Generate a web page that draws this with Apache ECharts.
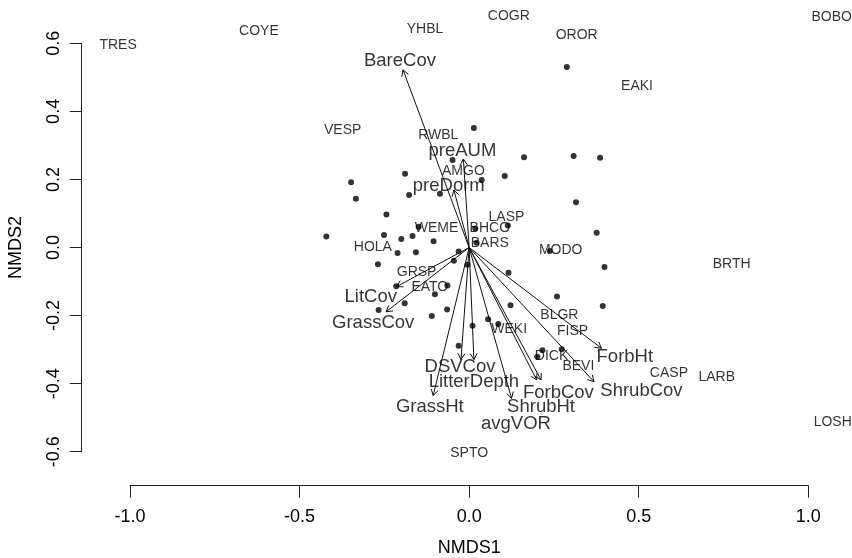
<!DOCTYPE html>
<html>
<head>
<meta charset="utf-8">
<script src="https://cdn.jsdelivr.net/npm/echarts@6/dist/echarts.min.js"></script>
<style>
  html, body { margin: 0; padding: 0; background: #fff; }
  #chart { width: 852px; height: 558px; }
</style>
</head>
<body>
<div id="chart"></div>
<script>
// NMDS ordination biplot: site scores, species scores and fitted env vectors

// site scores (black dots)
const siteX = [0.288, 0.014, 0.162, 0.308, 0.386, -0.049, 0.105, 0.037, -0.189, -0.348,
  -0.177, -0.334, -0.086, 0.315, -0.244, -0.149, 0.018, 0.114, 0.376, -0.421,
  -0.251, -0.200, -0.167, -0.105, 0.022, -0.211, -0.157, -0.031, 0.238, -0.269,
  -0.045, -0.005, 0.399, 0.116, -0.215, -0.064, -0.101, -0.190, -0.267, -0.065,
  -0.110, 0.122, 0.259, 0.394, 0.056, 0.086, 0.010, -0.031, 0.216, 0.201, 0.273];
const siteY = [0.530, 0.351, 0.265, 0.269, 0.264, 0.257, 0.210, 0.198, 0.217, 0.192,
  0.154, 0.143, 0.158, 0.133, 0.097, 0.061, 0.056, 0.065, 0.043, 0.032,
  0.037, 0.025, 0.034, 0.018, 0.014, -0.016, -0.014, -0.012, -0.010, -0.049,
  -0.039, -0.051, -0.057, -0.074, -0.114, -0.112, -0.137, -0.164, -0.184, -0.182,
  -0.201, -0.170, -0.144, -0.172, -0.211, -0.225, -0.230, -0.289, -0.302, -0.321, -0.299];

// species scores (text labels)
const speciesNames = ['TRES', 'COYE', 'YHBL', 'COGR', 'OROR', 'BOBO', 'EAKI', 'VESP', 'RWBL', 'AMGO',
  'LASP', 'BHCO', 'WEME', 'BARS', 'HOLA', 'MODO', 'GRSP', 'EATO', 'BLGR', 'FISP',
  'WEKI', 'DICK', 'BEVI', 'CASP', 'LARB', 'BRTH', 'LOSH', 'SPTO'];
const speciesX = [-1.035, -0.620, -0.130, 0.117, 0.317, 1.069, 0.495, -0.373, -0.091, -0.017,
  0.110, 0.061, -0.096, 0.061, -0.284, 0.270, -0.155, -0.116, 0.266, 0.305,
  0.118, 0.243, 0.322, 0.589, 0.730, 0.774, 1.072, 0.000];
const speciesY = [0.595, 0.636, 0.642, 0.680, 0.624, 0.678, 0.475, 0.345, 0.329, 0.225,
  0.090, 0.056, 0.058, 0.014, 0.002, -0.007, -0.073, -0.117, -0.200, -0.245,
  -0.240, -0.319, -0.350, -0.368, -0.380, -0.048, -0.514, -0.604];

// fitted environmental vectors: arrow tips and label positions
const vectorNames = ['BareCov', 'preAUM', 'preDorm', 'LitCov', 'GrassCov', 'DSVCov', 'LitterDepth',
  'GrassHt', 'avgVOR', 'ShrubHt', 'ForbCov', 'ShrubCov', 'ForbHt'];
const vectorX = [-0.195, -0.017, -0.045, -0.214, -0.245, -0.024, 0.014, -0.106, 0.125, 0.199, 0.212, 0.368, 0.390];
const vectorY = [0.522, 0.260, 0.169, -0.115, -0.189, -0.329, -0.329, -0.435, -0.443, -0.389, -0.389, -0.394, -0.296];
const vectorLabelX = [-0.204, -0.020, -0.060, -0.290, -0.283, -0.027, 0.014, -0.116, 0.138, 0.212, 0.263, 0.508, 0.459];
const vectorLabelY = [0.548, 0.284, 0.181, -0.145, -0.223, -0.350, -0.394, -0.468, -0.517, -0.469, -0.426, -0.422, -0.321];

const xTicks = [-1.0, 1.0];
const yTicks = [-0.6, 0.6];

const FONT = '"Liberation Sans", Arial, Helvetica, sans-serif';
const INK = '#000000';

const chart = echarts.init(document.getElementById('chart'), null, { renderer: 'canvas' });

const sites = siteX.map((x, i) => [x, siteY[i]]);
const species = speciesNames.map((n, i) => ({ name: n, value: [speciesX[i], speciesY[i]] }));
const arrows = vectorNames.map((n, i) => ({ name: n, value: [vectorX[i], vectorY[i]] }));
const arrowLabels = vectorNames.map((n, i) => ({ name: n, value: [vectorLabelX[i], vectorLabelY[i]] }));

// ── arrow drawing (R style open head) ───────────────────────────────
function renderArrow(params, api) {
  const o = api.coord([0, 0]);
  const t = api.coord([api.value(0), api.value(1)]);
  const ang = Math.atan2(t[1] - o[1], t[0] - o[0]);
  const h = 7, a = Math.PI / 6;
  const p1 = [t[0] - h * Math.cos(ang - a), t[1] - h * Math.sin(ang - a)];
  const p2 = [t[0] - h * Math.cos(ang + a), t[1] - h * Math.sin(ang + a)];
  return {
    type: 'group',
    children: [
      { type: 'line', shape: { x1: o[0], y1: o[1], x2: t[0], y2: t[1] }, style: { stroke: '#111', lineWidth: 1 } },
      { type: 'polyline', shape: { points: [p1, t, p2] }, style: { stroke: '#111', fill: null, lineWidth: 1 } }
    ]
  };
}

const option = {
  backgroundColor: '#ffffff',
  animation: false,
  grid: { left: 130, right: 43.7, top: 43.3, bottom: 106.3, outerBoundsMode: 'none' },
  xAxis: {
    type: 'value',
    min: xTicks[0], max: xTicks[1], interval: 0.5,
    offset: 34,
    name: 'NMDS1', nameLocation: 'middle', nameGap: 53,
    nameTextStyle: { fontSize: 18, fontFamily: FONT, color: INK },
    axisLine: { show: true, onZero: false, lineStyle: { color: '#222', width: 1 } },
    axisTick: { show: true, length: 12, lineStyle: { color: '#222', width: 1 } },
    axisLabel: { margin: 22, fontSize: 18, fontFamily: FONT, color: INK, formatter: v => v.toFixed(1) },
    splitLine: { show: false }
  },
  yAxis: {
    type: 'value',
    min: yTicks[0], max: yTicks[1], interval: 0.2,
    offset: 48.3,
    name: 'NMDS2', nameLocation: 'middle', nameGap: 57,
    nameTextStyle: { fontSize: 18, fontFamily: FONT, color: INK },
    axisLine: { show: true, onZero: false, lineStyle: { color: '#222', width: 1 } },
    axisTick: { show: true, length: 12, lineStyle: { color: '#222', width: 1 } },
    axisLabel: { margin: 19, rotate: 90, fontSize: 18, fontFamily: FONT, color: INK, formatter: v => v.toFixed(1) },
    splitLine: { show: false }
  },
  series: [
    {
      type: 'scatter',
      data: sites,
      symbol: 'circle',
      symbolSize: 6,
      itemStyle: { color: '#000' },
      clip: false,
      z: 3
    },
    {
      type: 'scatter',
      data: species,
      symbolSize: 0,
      clip: false,
      label: {
        show: true, position: 'inside', formatter: p => p.name,
        fontSize: 14, fontFamily: FONT, color: INK
      },
      z: 4
    },
    {
      type: 'custom',
      data: arrows,
      renderItem: renderArrow,
      clip: false,
      z: 2
    },
    {
      type: 'scatter',
      data: arrowLabels,
      symbolSize: 0,
      clip: false,
      label: {
        show: true, position: 'inside', formatter: p => p.name,
        fontSize: 18.5, fontFamily: FONT, color: INK
      },
      z: 5
    }
  ]
};

chart.setOption(option);
</script>
</body>
</html>
